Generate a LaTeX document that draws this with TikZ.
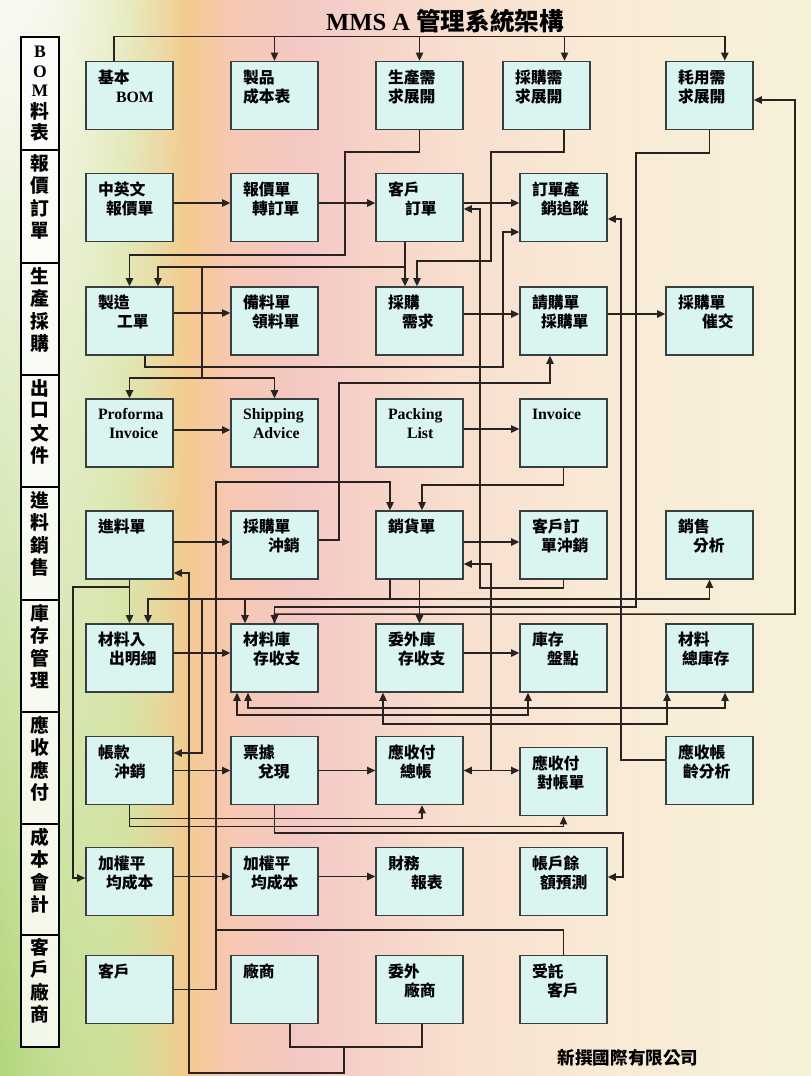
\documentclass[tikz,border=0pt]{standalone}
\usepackage{fontspec}
\setmainfont{Liberation Serif}
\newfontfamily\cjk{Noto Sans CJK TC}
\usetikzlibrary{arrows.meta,fadings}

\definecolor{boxfill}{RGB}{218,245,241}
\definecolor{boxline}{RGB}{55,64,62}
\definecolor{wire}{RGB}{40,35,32}
\definecolor{bgA}{RGB}{250,250,244}
\definecolor{bgB}{RGB}{236,240,205}
\definecolor{bgC}{RGB}{222,230,170}
\definecolor{bgD}{RGB}{244,202,142}
\definecolor{bgE}{RGB}{247,200,178}
\definecolor{bgF}{RGB}{244,200,196}
\definecolor{bgG}{RGB}{248,222,206}
\definecolor{bgH}{RGB}{249,234,214}
\definecolor{bgI}{RGB}{246,242,216}
\definecolor{leafgreen}{RGB}{178,214,120}
\pgfdeclarehorizontalshading{bgshade}{100bp}{color(0bp)=(bgA); color(25bp)=(bgA);
  color(28.7bp)=(bgB); color(32.4bp)=(bgC); color(36.4bp)=(bgD); color(39.2bp)=(bgE);
  color(43.5bp)=(bgF); color(52.7bp)=(bgG); color(62bp)=(bgH); color(75bp)=(bgI); color(100bp)=(bgI)}

% two text lines in a box, second one indented
\newcommand{\two}[3]{#1\\\hspace*{#2}#3\\\mbox{}}

\tikzset{
  box/.style={draw=boxline, fill=boxfill, line width=1.4pt, minimum height=20.4mm,
    text width=18.9mm, inner xsep=3.6mm, inner ysep=0pt, align=left,
    font=\cjk\bfseries\fontsize{13.5}{16.2}\selectfont},
  wire/.style={draw=wire, line width=1.3pt},
  arr/.style={wire, -{Triangle[length=2.4mm,width=2.2mm]}},
  darr/.style={wire, {Triangle[length=2.4mm,width=2.2mm]}-{Triangle[length=2.4mm,width=2.2mm]}},
  sidech/.style={inner sep=0pt, font=\cjk\bfseries\fontsize{16}{18}\selectfont},
}

\begin{document}
\begin{tikzpicture}[x=0.3mm,y=-0.3mm]
  \fill[shading=bgshade] (0,0) rectangle (811,1076);
  \shade[top color=bgA, middle color=bgB, bottom color=leafgreen, path fading=east] (0,0) rectangle (190,1076);
  \useasboundingbox (0,0) rectangle (811,1076);

  \node[font=\bfseries\fontsize{21}{24}\selectfont] (title) at (445,21) {MMS A {\cjk 管理系統架構}};

  % side column
  \draw[line width=1.2pt, fill=white, fill opacity=0.8] (21,37) rectangle (59,1047);
  \foreach \y in {150,263,375,487,600,712,824,935}
    \draw[line width=1.2pt] (21,\y) -- (59,\y);
  \foreach \c/\y in {B/52,O/72,M/91}
    \node[sidech, font=\rmfamily\bfseries\fontsize{15}{18}\selectfont] (s1\c) at (40,\y) {\c};
  \foreach \c/\y [count=\i] in {料/111,表/132}
    \node[sidech] (s1c\i) at (40,\y) {\c};
  \foreach \c [count=\i] in {報,價,訂,單}
    \node[sidech] (s2\i) at (40,{163+22.5*(\i-1)}) {\c};
  \foreach \c [count=\i] in {生,產,採,購}
    \node[sidech] (s3\i) at (40,{276+22.5*(\i-1)}) {\c};
  \foreach \c [count=\i] in {出,口,文,件}
    \node[sidech] (s4\i) at (40,{388+22.5*(\i-1)}) {\c};
  \foreach \c [count=\i] in {進,料,銷,售}
    \node[sidech] (s5\i) at (40,{500+22.5*(\i-1)}) {\c};
  \foreach \c [count=\i] in {庫,存,管,理}
    \node[sidech] (s6\i) at (40,{613+22.5*(\i-1)}) {\c};
  \foreach \c [count=\i] in {應,收,應,付}
    \node[sidech] (s7\i) at (40,{725+22.5*(\i-1)}) {\c};
  \foreach \c [count=\i] in {成,本,會,計}
    \node[sidech] (s8\i) at (40,{837+22.5*(\i-1)}) {\c};
  \foreach \c [count=\i] in {客,戶,廠,商}
    \node[sidech] (s9\i) at (40,{947+22.5*(\i-1)}) {\c};

  % BOM
  \node[box] (bom) at (129.5,95.5) {\two{基本}{5.4mm}{{\rmfamily BOM}}};
  \node[box] (cost) at (274.5,95.5) {\two{製品}{0mm}{成本表}};
  \node[box] (prodreq) at (419.5,95.5) {\two{生產需}{0mm}{求展開}};
  \node[box] (purreq) at (546.5,95.5) {\two{採購需}{0mm}{求展開}};
  \node[box] (usereq) at (709.5,95.5) {\two{耗用需}{0mm}{求展開}};
  % quotes and orders
  \node[box] (quote) at (129.5,207.5) {\two{中英文}{2.4mm}{報價單}};
  \node[box] (q2o) at (274.5,207.5) {\two{報價單}{2.7mm}{轉訂單}};
  \node[box] (custord) at (419.5,207.5) {\two{客戶}{5.1mm}{訂單}};
  \node[box] (track) at (563.5,207.5) {\two{訂單產}{2.7mm}{銷追蹤}};
  % production and purchase
  \node[box] (mfg) at (129.5,321) {\two{製造}{5.7mm}{工單}};
  \node[box] (picklist) at (274.5,321) {\two{備料單}{2.7mm}{領料單}};
  \node[box] (purneed) at (419.5,321) {\two{採購}{4.2mm}{需求}};
  \node[box] (preq) at (563.5,321) {\two{請購單}{2.7mm}{採購單}};
  \node[box] (expedite) at (709.5,321) {\two{採購單}{7.2mm}{催交}};
  % export documents
  \node[box] (pinv) at (129.5,433) {\two{{\rmfamily Proforma}}{3.3mm}{{\rmfamily Invoice}}};
  \node[box] (ship) at (274.5,433) {\two{{\rmfamily Shipping}}{3mm}{{\rmfamily Advice}}};
  \node[box] (pack) at (419.5,433) {\two{{\rmfamily Packing}}{5.7mm}{{\rmfamily List}}};
  \node[box] (invoice) at (563.5,433) {\two{{\rmfamily Invoice}}{0mm}{}};
  % receiving and sales
  \node[box] (matin) at (129.5,545) {\two{進料單}{0mm}{}};
  \node[box] (pocancel) at (274.5,545) {\two{採購單}{7.5mm}{沖銷}};
  \node[box] (sales) at (419.5,545) {\two{銷貨單}{0mm}{}};
  \node[box] (custcancel) at (563.5,545) {\two{客戶訂}{2.7mm}{單沖銷}};
  \node[box] (salesan) at (709.5,545) {\two{銷售}{4.5mm}{分析}};
  % stock
  \node[box] (matio) at (129.5,658) {\two{材料入}{3.3mm}{出明細}};
  \node[box] (matstk) at (274.5,658) {\two{材料庫}{3mm}{存收支}};
  \node[box] (osstk) at (419.5,658) {\two{委外庫}{3mm}{存收支}};
  \node[box] (stkcnt) at (563.5,658) {\two{庫存}{4.5mm}{盤點}};
  \node[box] (mattot) at (709.5,658) {\two{材料}{1.2mm}{總庫存}};
  % receivable and payable
  \node[box] (acct) at (129.5,770.5) {\two{帳款}{4.8mm}{沖銷}};
  \node[box] (bill) at (274.5,770.5) {\two{票據}{4.5mm}{兌現}};
  \node[box] (arrec) at (419.5,770.5) {\two{應收付}{3.6mm}{總帳}};
  \node[box] (arstmt) at (563.5,781.5) {\two{應收付}{1.5mm}{對帳單}};
  \node[box] (arage) at (709.5,770.5) {\two{應收帳}{1.5mm}{齡分析}};
  % cost accounting
  \node[box] (wac1) at (129.5,881.5) {\two{加權平}{2.4mm}{均成本}};
  \node[box] (wac2) at (274.5,881.5) {\two{加權平}{2.4mm}{均成本}};
  \node[box] (finrep) at (419.5,881.5) {\two{財務}{6.9mm}{報表}};
  \node[box] (balpred) at (563.5,881.5) {\two{帳戶餘}{2.4mm}{額預測}};
  % customers and vendors
  \node[box] (cust) at (129.5,989.5) {\two{客戶}{0mm}{}};
  \node[box] (vendor) at (274.5,989.5) {\two{廠商}{0mm}{}};
  \node[box] (outsrc) at (419.5,989.5) {\two{委外}{4.8mm}{廠商}};
  \node[box] (trust) at (563.5,989.5) {\two{受託}{4.5mm}{客戶}};

  \node[font=\cjk\bfseries\fontsize{15}{18}\selectfont] (corp) at (628,1058) {新撰國際有限公司};

  % top bus
  \foreach \t/\s in {cost/0mm, prodreq/0mm, purreq/5.4mm, usereq/4.6mm}
    \draw[arr] ([xshift=-4.65mm]bom.north) -- ++(0,-24) -| ([xshift=\s]\t.north);
  \draw[arr] (matstk.north) -- ++(0,-9) -| (795,100) -- ([yshift=-1.35mm]usereq.east);
  \draw[arr] (usereq.south) |- (636,153) -- (636,607) -| (matstk.north);
  \draw[arr] (prodreq.south) |- (345,152) -- (345,255) -| (mfg.north);
  \draw[arr] ([xshift=5.25mm]purreq.south) |- (491,152) -- (491,261) -| ([xshift=-0.75mm]purneed.north);

  % orders
  \draw[arr] ([yshift=1.35mm]quote.east) -- ([yshift=1.35mm]q2o.west);
  \draw[arr] ([yshift=1.35mm]q2o.east) -- ([yshift=1.35mm]custord.west);
  \draw[arr] ([yshift=1.35mm]custord.east) -- ([yshift=1.35mm]track.west);
  \draw[arr] (custcancel.south) |- (480,588) |- ([yshift=-0.45mm]custord.east);
  \draw[arr] ([xshift=-4.35mm]custord.south) -- ([xshift=-4.35mm]purneed.north);
  \draw[arr] ([xshift=-4.35mm]custord.south) |- (158,267) -- ([xshift=8.55mm]mfg.north);
  \draw[arr] ([xshift=-4.35mm]custord.south) |- (202,267) -- (202,378) -| (pinv.north);
  \draw[arr] ([xshift=-4.35mm]custord.south) |- (202,267) -- (202,378) -| (ship.north);
  \draw[arr] ([xshift=4.65mm]mfg.south) |- (503,367) |- ([yshift=-7.35mm]track.west);
  \draw[arr] ([yshift=3.15mm]arage.west) -- ++(-44,0) |- ([yshift=-3.45mm]track.east);

  % production, purchase
  \draw[arr] ([yshift=2.4mm]mfg.east) -- ([yshift=2.4mm]picklist.west);
  \draw[arr] ([yshift=2.1mm]purneed.east) -- ([yshift=2.1mm]preq.west);
  \draw[arr] ([yshift=2.1mm]preq.east) -- ([yshift=2.1mm]expedite.west);
  \draw[arr] ([yshift=1.5mm]pocancel.east) -| (339,383) -| ([xshift=-4.05mm]preq.south);

  % export documents
  \draw[arr] ([yshift=0.9mm]pinv.east) -- ([yshift=0.9mm]ship.west);
  \draw[arr] ([yshift=1.2mm]pack.east) -- ([yshift=1.2mm]invoice.west);
  \draw[arr] (invoice.south) |- (422,485) -- ([xshift=0.75mm]sales.north);
  \draw[arr] (cust.east) -| (216,482) -| ([xshift=-8.85mm]sales.north);
  \draw[wire] (trust.north) |- (216,930);

  % receiving, sales
  \draw[arr] ([yshift=0.9mm]matin.east) -- ([yshift=0.9mm]pocancel.west);
  \draw[arr] ([yshift=0.9mm]sales.east) -- ([yshift=0.9mm]custcancel.west);
  \foreach \t/\s/\a in {matio/5.55mm/north, matstk/-8.85mm/north, salesan/0mm/south}
    \draw[arr] ([xshift=-8.85mm]sales.south) -- ++(0,19) -| ([xshift=\s]\t.\a);
  \draw[arr] ([xshift=-8.85mm]sales.south) -- ++(0,19) -| (202,753) -- ([yshift=5.25mm]acct.east);
  \draw[arr] (sales.south) -- (osstk.north);
  \draw[arr] ([xshift=4.65mm]vendor.south) |- (344,1047) |- (189,1073) |- ([yshift=-8.4mm]matin.east);
  \draw[wire] ([xshift=0.75mm]outsrc.south) |- (344,1047);
  \draw[arr] (matin.south) -- (matio.north);
  \draw[arr] (matin.south) |- (73,587) |- ([yshift=1.05mm]wac1.west);

  % stock
  \draw[arr] ([yshift=1.5mm]matio.east) -- ([yshift=1.5mm]matstk.west);
  \draw[arr] ([yshift=1.5mm]osstk.east) -- ([yshift=1.5mm]stkcnt.west);
  \draw[darr] ([xshift=-7.95mm]matstk.south) -- ++(0,15) -| ([xshift=4.65mm]mattot.south);
  \draw[darr] ([xshift=-11.25mm]matstk.south) -- ++(0,22) -| ([xshift=-10.65mm]stkcnt.south);
  \draw[darr] ([xshift=-10.95mm]osstk.south) -- ++(0,31) -| ([xshift=-12.75mm]mattot.south);

  % receivable, payable
  \draw[arr] (acct.east) -- (bill.west);
  \draw[arr] (bill.east) -- (arrec.west);
  \draw[darr] (arrec.east) -- (arrec.east -| arstmt.west);
  \draw[arr] (arrec.east) -- ++(27,0) |- ([yshift=-5.7mm]sales.east);
  \draw[arr] (acct.south) -- ++(0,13) -| ([xshift=0.75mm]arrec.south);
  \draw[arr] (acct.south) -- ++(0,21) -| (arstmt.south);
  \draw[arr] (bill.south) |- (623,833) |- ([yshift=1.35mm]balpred.east);

  % cost accounting
  \draw[arr] ([yshift=1.5mm]wac1.east) -- ([yshift=1.5mm]wac2.west);
  \draw[arr] ([yshift=1.5mm]wac2.east) -- ([yshift=1.5mm]finrep.west);
\end{tikzpicture}
\end{document}
